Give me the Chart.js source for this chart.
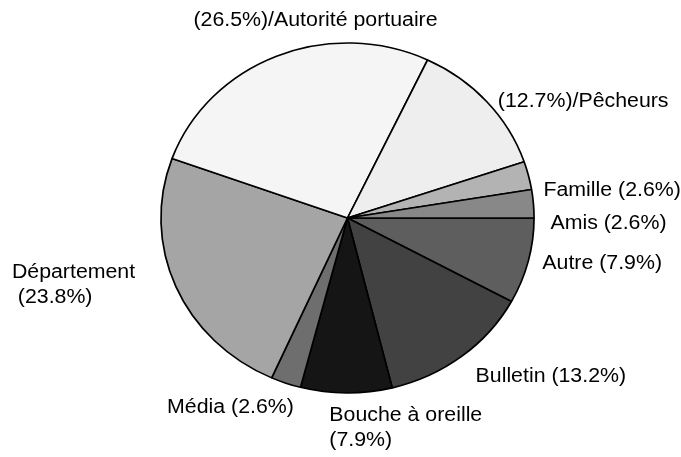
<!DOCTYPE html>
<html>
  <head>
    <meta charset="utf-8">
    <script src="https://cdn.jsdelivr.net/npm/chart.js"></script>
    <style>
      html, body { margin: 0; padding: 0; background: #fff; }
      #wrap { width: 681px; height: 457px; }
    </style>
    <script>
      // Slices, clockwise from 3 o'clock
      const categories = ['Autre', 'Bulletin', 'Bouche à oreille', 'Média', 'Département',
                          'Autorité portuaire', 'Pêcheurs', 'Famille', 'Amis'];
      const shares = [7.9, 13.2, 7.9, 2.6, 23.8, 26.5, 12.7, 2.6, 2.6];
      const sliceColors = ['#5e5e5e', '#424242', '#151515', '#6e6e6e', '#a5a5a5',
                           '#f5f5f5', '#eeeeee', '#b3b3b3', '#888888'];

      // Label text per slice ({v} is replaced by the share)
      const labelText = [
        ['Autre ({v}%)'],
        ['Bulletin ({v}%)'],
        ['Bouche à oreille', '({v}%)'],
        ['Média ({v}%)'],
        ['Département', ' ({v}%)'],
        ['({v}%)/Autorité portuaire'],
        ['({v}%)/Pêcheurs'],
        ['Famille ({v}%)'],
        ['Amis ({v}%)']
      ];

      // The whole drawing is a little wider than tall
      const stretchX = 1.066;

      // Where each label sits relative to the middle of its slice's rim
      const labelLayout = [
        { dx: 14, dy: 2, align: 'left' },
        { dx: 14, dy: 20, align: 'left' },
        { dx: -17, dy: 22, align: 'left' },
        { dx: 8, dy: 24, align: 'right' },
        { dx: -164, dy: -14, align: 'left' },
        { dx: 39, dy: -36, align: 'center' },
        { dx: 11, dy: 0, align: 'left' },
        { dx: 15, dy: 15, align: 'left' },
        { dx: 17, dy: 20, align: 'left' }
      ];

      const ellipsePlugin = {
        id: 'ellipse',
        beforeDatasetsDraw(chart) {
          const arc = chart.getDatasetMeta(0).data[0];
          const ctx = chart.ctx;
          ctx.save();
          ctx.translate(arc.x, arc.y);
          ctx.scale(stretchX, 1);
          ctx.translate(-arc.x, -arc.y);
        },
        afterDatasetsDraw(chart) {
          chart.ctx.restore();
        }
      };

      const labelPlugin = {
        id: 'sliceLabels',
        afterDraw(chart) {
          const ctx = chart.ctx;
          ctx.font = '20px "Liberation Sans", Arial, sans-serif';
          ctx.fillStyle = '#000';
          ctx.textBaseline = 'middle';
          chart.getDatasetMeta(0).data.forEach((arc, i) => {
            const mid = (arc.startAngle + arc.endAngle) / 2;
            const ax = arc.x + arc.outerRadius * stretchX * Math.cos(mid);
            const ay = arc.y + arc.outerRadius * Math.sin(mid);
            const lay = labelLayout[i];
            ctx.textAlign = lay.align;
            labelText[i].forEach((line, k) => {
              ctx.save();
              ctx.translate(ax + lay.dx, ay + lay.dy + k * 25);
              ctx.scale(stretchX, 1);
              ctx.fillText(line.replace('{v}', shares[i]), 0, 0);
              ctx.restore();
            });
          });
        }
      };

      window.onload = function() {
        new Chart(document.getElementById('pie'), {
          type: 'pie',
          data: {
            labels: categories,
            datasets: [{
              data: shares,
              backgroundColor: sliceColors,
              borderColor: '#000',
              borderWidth: 1.6
            }]
          },
          options: {
            responsive: false,
            animation: false,
            rotation: 90,
            radius: 175,
            layout: { padding: { left: 14, bottom: 21 } },
            plugins: {
              legend: { display: false },
              tooltip: { enabled: false }
            }
          },
          plugins: [ellipsePlugin, labelPlugin]
        });
      };
    </script>
  </head>
  <body>
    <div id="wrap">
      <canvas id="pie" width="681" height="457"></canvas>
    </div>
  </body>
</html>
